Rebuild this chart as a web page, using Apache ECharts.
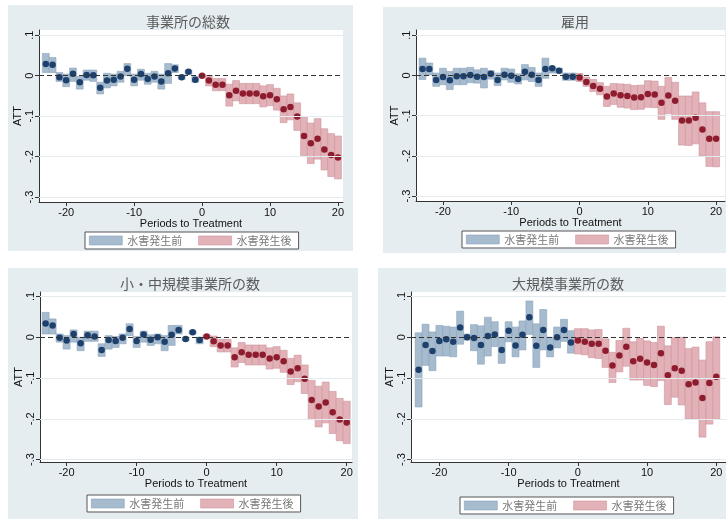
<!DOCTYPE html>
<html>
<head>
<meta charset="utf-8">
<script src="https://cdn.jsdelivr.net/npm/echarts@6/dist/echarts.min.js"></script>
<style>
html,body{margin:0;padding:0;background:#fff;}
#chart{width:726px;height:519px;}
</style>
</head>
<body>
<div id="chart"></div>
<script>
// ---------------- data ----------------
const prePeriods  = [-23,-22,-21,-20,-19,-18,-17,-16,-15,-14,-13,-12,-11,-10,-9,-8,-7,-6,-5,-4,-3,-2,-1];
const postPeriods = [0,1,2,3,4,5,6,7,8,9,10,11,12,13,14,15,16,17,18,19,20];
const xTicks = [-20,-10,0,10,20];
const yTicks = [-0.3,-0.2,-0.1,0,0.1];
const panelTitles = ['事業所の総数','雇用','小・中規模事業所の数','大規模事業所の数'];
const preName = '水害発生前';
const postName = '水害発生後';
const xTitle = 'Periods to Treatment';
const yTitle = 'ATT';

// Panel 1: 事業所の総数
const p1PreMean = [0.029,0.027,-0.004,-0.011,0.005,-0.016,0.002,0.001,-0.030,-0.012,-0.010,-0.002,0.017,-0.010,0.004,-0.008,-0.002,-0.014,0.006,0.018,-0.004,0.010,-0.010];
const p1PreLo   = [0.008,0.008,-0.014,-0.027,-0.014,-0.033,-0.011,-0.014,-0.045,-0.030,-0.025,-0.016,0.000,-0.025,-0.011,-0.021,-0.016,-0.033,-0.019,0.008,-0.009,0.004,-0.016];
const p1PreHi   = [0.055,0.045,0.008,0.004,0.019,-0.002,0.014,0.014,-0.016,0.006,0.004,0.011,0.030,0.004,0.016,0.006,0.011,0.004,0.030,0.027,0.001,0.014,-0.002];
const p1PostMean= [0.000,-0.012,-0.022,-0.022,-0.048,-0.037,-0.044,-0.044,-0.044,-0.051,-0.048,-0.058,-0.083,-0.077,-0.101,-0.149,-0.167,-0.156,-0.182,-0.196,-0.202];
const p1PostLo  = [-0.003,-0.025,-0.037,-0.037,-0.075,-0.062,-0.069,-0.069,-0.069,-0.077,-0.074,-0.085,-0.116,-0.109,-0.135,-0.197,-0.217,-0.206,-0.233,-0.249,-0.255];
const p1PostHi  = [0.003,0.001,-0.007,-0.007,-0.021,-0.012,-0.019,-0.019,-0.019,-0.025,-0.022,-0.031,-0.050,-0.045,-0.067,-0.101,-0.117,-0.106,-0.131,-0.143,-0.149];

// Panel 2: 雇用
const p2PreMean = [0.016,0.016,-0.011,-0.004,-0.012,-0.002,-0.002,0.001,-0.003,-0.004,0.004,-0.011,0.002,-0.001,-0.009,0.009,0.002,-0.011,0.016,0.018,0.012,-0.003,-0.003];
const p2PreLo   = [-0.010,0.001,-0.027,-0.023,-0.035,-0.023,-0.023,-0.018,-0.019,-0.031,-0.009,-0.025,-0.011,-0.017,-0.021,-0.011,-0.015,-0.027,-0.007,0.006,0.006,-0.012,-0.012];
const p2PreHi   = [0.043,0.031,0.006,0.018,0.010,0.018,0.018,0.020,0.014,0.018,0.012,0.006,0.018,0.016,0.004,0.027,0.020,0.006,0.043,0.022,0.018,0.006,0.006];
const p2PostMean= [-0.005,-0.016,-0.026,-0.033,-0.052,-0.045,-0.049,-0.051,-0.055,-0.054,-0.046,-0.047,-0.068,-0.050,-0.063,-0.112,-0.112,-0.105,-0.134,-0.157,-0.157];
const p2PostLo  = [-0.015,-0.027,-0.040,-0.048,-0.077,-0.072,-0.079,-0.081,-0.085,-0.084,-0.079,-0.080,-0.109,-0.095,-0.109,-0.173,-0.174,-0.170,-0.200,-0.226,-0.227];
const p2PostHi  = [0.005,-0.004,-0.010,-0.018,-0.027,-0.020,-0.021,-0.022,-0.025,-0.024,-0.013,-0.014,-0.027,-0.005,-0.017,-0.051,-0.051,-0.041,-0.068,-0.090,-0.090];

// Panel 3: 小・中規模事業所の数
const p3PreMean = [0.034,0.029,-0.001,-0.008,0.008,-0.015,0.005,0.002,-0.031,-0.007,-0.009,-0.001,0.020,-0.009,0.007,-0.006,0.000,-0.011,0.006,0.018,-0.004,0.012,-0.007];
const p3PreLo   = [0.008,0.008,-0.012,-0.029,-0.012,-0.033,-0.010,-0.010,-0.047,-0.029,-0.025,-0.016,0.004,-0.025,-0.012,-0.020,-0.016,-0.033,-0.020,0.008,-0.009,0.008,-0.016];
const p3PreHi   = [0.061,0.045,0.008,0.004,0.018,0.000,0.015,0.015,-0.016,0.004,0.002,0.008,0.033,0.002,0.015,0.006,0.008,0.004,0.029,0.029,0.000,0.016,0.000];
const p3PostMean= [0.002,-0.010,-0.020,-0.020,-0.049,-0.037,-0.043,-0.043,-0.043,-0.052,-0.049,-0.059,-0.084,-0.076,-0.102,-0.154,-0.170,-0.160,-0.184,-0.202,-0.209];
const p3PostLo  = [-0.003,-0.023,-0.036,-0.036,-0.073,-0.062,-0.068,-0.068,-0.068,-0.078,-0.076,-0.086,-0.116,-0.109,-0.138,-0.202,-0.220,-0.210,-0.236,-0.254,-0.261];
const p3PostHi  = [0.006,0.003,-0.005,-0.005,-0.026,-0.013,-0.019,-0.019,-0.019,-0.026,-0.023,-0.032,-0.052,-0.044,-0.068,-0.106,-0.120,-0.110,-0.133,-0.150,-0.157];

// Panel 4: 大規模事業所の数
const p4PreMean = [-0.080,-0.019,-0.034,-0.009,-0.005,-0.011,0.024,0.000,-0.002,-0.019,0.003,0.007,-0.031,0.016,-0.020,0.006,0.049,-0.021,0.018,-0.025,0.000,0.018,-0.013];
const p4PreLo   = [-0.171,-0.069,-0.082,-0.046,-0.046,-0.048,-0.017,-0.007,-0.033,-0.066,-0.046,-0.023,-0.064,-0.011,-0.048,-0.031,0.007,-0.074,-0.031,-0.048,-0.026,-0.010,-0.039];
const p4PreHi   = [0.011,0.032,0.013,0.029,0.027,0.025,0.064,0.008,0.031,0.028,0.049,0.038,0.000,0.038,0.025,0.040,0.089,0.033,0.068,0.000,0.025,0.044,0.016];
const p4PostMean= [-0.008,-0.011,-0.016,-0.016,-0.033,-0.069,-0.045,-0.023,-0.059,-0.053,-0.062,-0.068,-0.039,-0.093,-0.076,-0.082,-0.115,-0.111,-0.149,-0.112,-0.097];
const p4PostLo  = [-0.041,-0.043,-0.050,-0.052,-0.074,-0.111,-0.085,-0.071,-0.105,-0.105,-0.118,-0.121,-0.106,-0.165,-0.147,-0.166,-0.201,-0.201,-0.245,-0.213,-0.201];
const p4PostHi  = [0.021,0.021,0.018,0.019,-0.004,-0.037,-0.008,0.022,-0.011,-0.003,-0.009,-0.013,0.027,-0.021,-0.001,0.000,-0.028,-0.024,-0.056,-0.011,0.001];

// ---------------- layout / style ----------------
const panels = [
  {pre:[p1PreMean,p1PreLo,p1PreHi], post:[p1PostMean,p1PostLo,p1PostHi]},
  {pre:[p2PreMean,p2PreLo,p2PreHi], post:[p2PostMean,p2PostLo,p2PostHi]},
  {pre:[p3PreMean,p3PreLo,p3PreHi], post:[p3PostMean,p3PostLo,p3PostHi]},
  {pre:[p4PreMean,p4PreLo,p4PreHi], post:[p4PostMean,p4PostLo,p4PostHi]}
];
const layout = [
  {bg:[8,5,345,246],   grid:[39,30,304,172],  x:[-24,20.74],   y:[-0.312,0.113], title:[183,10], legend:[85,232]},
  {bg:[383,7,343,246], grid:[416,30,309,171], x:[-23.95,21.3], y:[-0.312,0.113], title:[570,10], legend:[462,231]},
  {bg:[8,268,350,251], grid:[40,292,312,170], x:[-23.8,20.76], y:[-0.306,0.111], title:[185,272], legend:[87,495]},
  {bg:[378,268,348,251],grid:[411,292,315,170],x:[-24.1,21.4], y:[-0.306,0.111], title:[563,272], legend:[460,497]}
];
const preFill = '#a7bbcf', preStroke = '#8aa2ba', preDot = '#1d406c';
const postFill = '#e2b2b8', postStroke = '#cc949c', postDot = '#8f1c2e';
const panelBg = '#e6edf1';
const axisColor = '#333';
const latin = '"Liberation Sans", Arial, sans-serif';
const cjk = '"Noto Sans CJK JP", sans-serif';

function fmtY(v){
  if (Math.abs(v) < 1e-9) return '0';
  return (v < 0 ? '-' : '') + '.' + Math.round(Math.abs(v) * 10);
}
function boxRenderer(fill, stroke){
  return function(params, api){
    const x = api.value(0), lo = api.value(1), hi = api.value(2);
    const top = api.coord([x, hi]);
    const bot = api.coord([x, lo]);
    const w = api.size([1, 0])[0];
    return {type:'rect', shape:{x:top[0] - w / 2, y:top[1], width:w, height:bot[1] - top[1]},
            style:{fill:fill, stroke:stroke, lineWidth:0.6}};
  };
}

const option = {
  animation:false,
  backgroundColor:'#fff',
  graphic: layout.map(l => ({type:'rect', silent:true, z:-10,
      shape:{x:l.bg[0], y:l.bg[1], width:l.bg[2], height:l.bg[3]}, style:{fill:panelBg}})),
  title: layout.map((l,i) => ({text:panelTitles[i], left:l.title[0], top:l.title[1], textAlign:'center',
      textStyle:{fontFamily:cjk, fontSize:14, fontWeight:'normal', color:'#5a5a5a'}})),
  legend: layout.map(l => ({left:l.legend[0], top:l.legend[1], orient:'horizontal', selectedMode:false,
      itemWidth:33, itemHeight:9, itemGap:16, padding:[3,7,3,4], borderColor:'#555', borderWidth:1,
      backgroundColor:'#fff', borderRadius:0, icon:'rect',
      textStyle:{fontFamily:cjk, fontSize:11, color:'#777'},
      data:[{name:preName, itemStyle:{color:preFill, borderColor:preStroke, borderWidth:0.6}},
            {name:postName, itemStyle:{color:postFill, borderColor:postStroke, borderWidth:0.6}}]})),
  grid: layout.map(l => ({left:l.grid[0], top:l.grid[1], width:l.grid[2], height:l.grid[3],
      show:true, backgroundColor:'#fff', borderWidth:0, containLabel:false})),
  xAxis: layout.map((l,i) => ({type:'value', gridIndex:i, min:l.x[0], max:l.x[1],
      axisLine:{show:true, onZero:false, lineStyle:{color:axisColor, width:1}},
      axisTick:{show:true, length:4, customValues:xTicks, lineStyle:{color:axisColor}},
      axisLabel:{customValues:xTicks, color:'#111', fontSize:11, fontFamily:latin, margin:5},
      splitLine:{show:false},
      name:xTitle, nameLocation:'middle', nameGap:16,
      nameTextStyle:{fontFamily:latin, fontSize:11, color:'#111'}})),
  yAxis: layout.map((l,i) => ({type:'value', gridIndex:i, min:l.y[0], max:l.y[1],
      axisLine:{show:true, onZero:false, lineStyle:{color:axisColor, width:1}},
      axisTick:{show:true, length:4, customValues:yTicks, lineStyle:{color:axisColor}},
      axisLabel:{customValues:yTicks, rotate:90, formatter:fmtY, color:'#111', fontSize:11, fontFamily:latin, margin:4},
      splitLine:{show:false},
      name:yTitle, nameLocation:'middle', nameGap:15, nameRotate:90,
      nameTextStyle:{fontFamily:latin, fontSize:11, color:'#111'}})),
  series: []
};

panels.forEach((p,i) => {
  option.series.push({type:'line', xAxisIndex:i, yAxisIndex:i, data:[], z:1, silent:true,
    markLine:{silent:true, symbol:['none','none'], label:{show:false},
      lineStyle:{color:'#e4ebef', width:1, type:'solid'},
      data: yTicks.filter(v => v !== 0).map(v => ({yAxis:v}))}});
  option.series.push({type:'custom', name:preName, xAxisIndex:i, yAxisIndex:i, z:2,
    renderItem: boxRenderer(preFill, preStroke), encode:{x:0, y:[1,2]},
    itemStyle:{color:preFill},
    data: prePeriods.map((t,j) => [t, p.pre[1][j], p.pre[2][j]])});
  option.series.push({type:'custom', name:postName, xAxisIndex:i, yAxisIndex:i, z:2,
    renderItem: boxRenderer(postFill, postStroke), encode:{x:0, y:[1,2]},
    itemStyle:{color:postFill},
    data: postPeriods.map((t,j) => [t, p.post[1][j], p.post[2][j]])});
  option.series.push({type:'line', xAxisIndex:i, yAxisIndex:i, data:[], z:3, silent:true,
    markLine:{silent:true, symbol:['none','none'], label:{show:false},
      lineStyle:{color:'#333', width:1.2, type:[5,3]},
      data:[{yAxis:0}]}});
  option.series.push({type:'scatter', xAxisIndex:i, yAxisIndex:i, z:4, symbolSize:6.5,
    itemStyle:{color:preDot, opacity:1},
    data: prePeriods.map((t,j) => [t, p.pre[0][j]])});
  option.series.push({type:'scatter', xAxisIndex:i, yAxisIndex:i, z:4, symbolSize:6.5,
    itemStyle:{color:postDot, opacity:1},
    data: postPeriods.map((t,j) => [t, p.post[0][j]])});
});

const chart = echarts.init(document.getElementById('chart'), null, {renderer:'canvas'});
chart.setOption(option);
</script>
</body>
</html>
